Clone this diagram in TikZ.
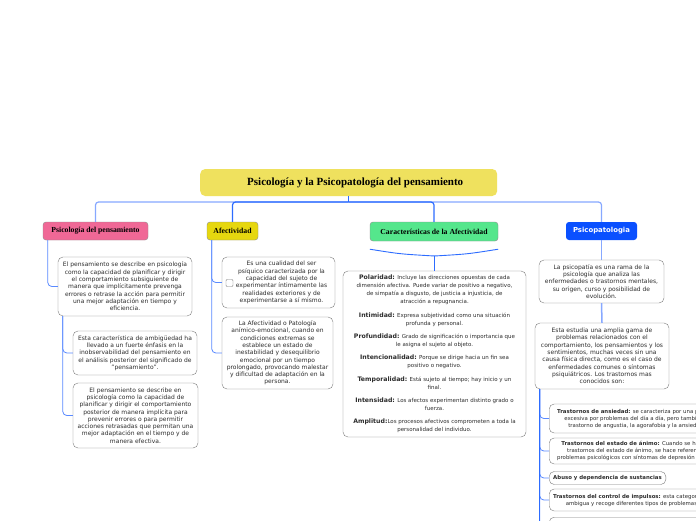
\documentclass[tikz,border=0pt]{standalone}
\usepackage{fontspec}
\setmainfont{DejaVu Sans}
\newfontfamily\headfont{Liberation Serif}
\usepackage{xcolor}
\usepackage{tikz}
\usetikzlibrary{positioning, calc}
\definecolor{titleyellow}{RGB}{239,225,94}
\definecolor{topicpink}{RGB}{240,104,150}
\definecolor{topicyellow}{RGB}{230,215,15}
\definecolor{topicgreen}{RGB}{85,230,140}
\definecolor{topicblue}{RGB}{10,80,255}
\definecolor{linkdark}{RGB}{45,108,255}
\definecolor{linklight}{RGB}{135,168,255}
\definecolor{boxgray}{RGB}{125,125,125}
\definecolor{textgray}{RGB}{45,45,45}
\tikzstyle{topic} = [rounded corners=3pt, draw=black!45, minimum height=18pt, inner sep=1pt, font=\headfont\bfseries\fontsize{7.7}{9}\selectfont]
\tikzstyle{notebox} = [rounded corners=5pt, draw=boxgray, fill=white, align=center, inner xsep=1pt, inner ysep=2pt, text=textgray, font=\fontsize{6}{7.3}\selectfont]
\tikzstyle{subnote} = [notebox, anchor=west, inner xsep=8pt, font=\fontsize{5.4}{7}\selectfont]
\tikzstyle{link} = [draw=linkdark!50!linklight, line width=0.8pt, rounded corners=4pt]
\tikzstyle{trunk} = [draw=linkdark, line width=1.2pt, rounded corners=3pt]
\newcommand{\chead}[1]{{\fontsize{6.2}{8}\selectfont\bfseries #1}}

\begin{document}
\begin{tikzpicture}[x=1pt, y=-1pt]
    \useasboundingbox[fill=white] (0,0) rectangle (696,520);
    \clip (0,0) rectangle (696,520);

    % Title
    \node[topic, fill=titleyellow, draw=none, rounded corners=5pt, minimum width=297pt, minimum height=27pt, anchor=west] (title) at (200,182.5) {};
    \node[inner sep=0pt, anchor=west, font=\headfont\bfseries\fontsize{11}{13}\selectfont] (titletxt) at (247,183) {Psicología y la Psicopatología del pensamiento};

    % Branches
    \node[topic, fill=topicpink, minimum width=105pt] (b1) at (95.5,231) {Psicología del pensamiento};
    \node[topic, fill=topicyellow, minimum width=51pt] (b2) at (232.5,231) {Afectividad};
    \node[topic, fill=topicgreen, minimum width=128pt, minimum height=19pt] (b3) at (434,231.5) {Características de la Afectividad};
    \node[topic, fill=topicblue, draw=none, minimum width=71pt, text=white, font=\bfseries\fontsize{6.9}{8}\selectfont] (b4) at (601.5,231) {Psicopatologia};

    % Trunk
    \coordinate (hub) at (title.south |- 0,202);
    \draw[trunk, draw=linklight] (hub) -| (b1.north);
    \draw[trunk, draw=linklight] (hub) -| (b4.north);
    \draw[trunk] (title.south) -- (hub);
    \draw[trunk] (hub) -| (b2.north);
    \draw[trunk] (hub) -| (b3.north);

    % Psicologia del pensamiento
    \node[notebox, minimum width=134pt, minimum height=59pt] (c11) at (125,286.5) {El pensamiento se describe en psicología\\ como la capacidad de planificar y dirigir\\ el comportamiento subsiguiente de\\ manera que implícitamente prevenga\\ errores o retrase la acción para permitir\\ una mejor adaptación en tiempo y\\ eficiencia.};
    \node[notebox, minimum width=124pt, minimum height=44pt] (c12) at (135,353) {Esta característica de ambigüedad ha\\ llevado a un fuerte énfasis en la\\ inobservabilidad del pensamiento en\\ el análisis posterior del significado de\\ "pensamiento".};
    \node[notebox, minimum width=125pt, minimum height=65pt] (c13) at (135.5,415.5) {El pensamiento se describe en\\ psicología como la capacidad de\\ planificar y dirigir el comportamiento\\ posterior de manera implícita para\\ prevenir errores o para permitir\\ acciones retrasadas que permitan una\\ mejor adaptación en el tiempo y de\\ manera efectiva.};
    \draw[link] ([xshift=5pt]b1.south west) |- (c11.west);
    \draw[link] ([xshift=5pt]c11.south west) |- (c12.west);
    \draw[link] ([xshift=5pt]c11.south west) |- (c13.west);

    % Afectividad
    \node[notebox, minimum width=113pt, minimum height=51pt] (c21) at (278.5,282.5) {};
    \node[align=center, inner sep=0pt, text=textgray, font=\fontsize{6}{7.3}\selectfont] (c21txt) at ([xshift=3pt]c21.center) {Es una cualidad del ser\\ psíquico caracterizada por la\\ capacidad del sujeto de\\ experimentar íntimamente las\\ realidades exteriores y de\\ experimentarse a sí mismo.};
    \node[draw=boxgray, rounded corners=1pt, minimum size=7pt, inner sep=0pt] (check) at (229.5,283) {};
    \node[notebox, minimum width=111pt, minimum height=72pt] (c22) at (277.5,353) {La Afectividad o Patología\\ anímico-emocional, cuando en\\ condiciones extremas se\\ establece un estado de\\ inestabilidad y desequilibrio\\ emocional por un tiempo\\ prolongado, provocando malestar\\ y dificultad de adaptación en la\\ persona.};
    \draw[link] ([xshift=5pt]b2.south west) |- (c21.west);
    \draw[link] ([xshift=5pt]b2.south west) |- (c22.west);

    % Caracteristicas de la Afectividad
    \node[notebox, minimum width=183pt, minimum height=166pt, font=\fontsize{5.5}{8}\selectfont] (c31) at (434.5,354) {\chead{Polaridad:} Incluye las direcciones opuestas de cada\\ dimensión afectiva. Puede variar de positivo a negativo,\\ de simpatía a disgusto, de justicia a injusticia, de\\ atracción a repugnancia.\\[5.3pt]
    \chead{Intimidad:} Expresa subjetividad como una situación\\ profunda y personal.\\[5.3pt]
    \chead{Profundidad:} Grado de significación o importancia que\\ le asigna el sujeto al objeto.\\[5.3pt]
    \chead{Intencionalidad:} Porque se dirige hacia un fin sea\\ positivo o negativo.\\[5.3pt]
    \chead{Temporalidad:} Está sujeto al tiempo; hay inicio y un\\ final.\\[5.3pt]
    \chead{Intensidad:} Los afectos experimentan distinto grado o\\ fuerza.\\[5.3pt]
    \chead{Amplitud:}Los procesos afectivos comprometen a toda la\\ personalidad del individuo.};
    \coordinate (bl) at ([yshift=-8pt]b3.south west);
    \coordinate (br) at ([yshift=-8pt]b3.south east);
    \coordinate (brace) at (434.5,256);
    \draw[trunk, line width=0.9pt] (bl) .. controls (400,254) .. (brace) .. controls (468,254) .. (br);
    \draw[trunk, line width=0.9pt] (brace) -- (c31.north);

    % Psicopatologia
    \node[notebox, minimum width=125pt, minimum height=43pt] (pc1) at (601.5,281.5) {La psicopatía es una rama de la\\ psicología que analiza las\\ enfermedades o trastornos mentales,\\ su origen, curso y posibilidad de\\ evolución.};
    \node[notebox, minimum width=134pt, minimum height=66pt] (pc2) at (602,356) {Esta estudia una amplia gama de\\ problemas relacionados con el\\ comportamiento, los pensamientos y los\\ sentimientos, muchas veces sin una\\ causa física directa, como es el caso de\\ enfermedades comunes o síntomas\\ psiquiátricos. Los trastornos mas\\ conocidos son:};
    \draw[link, draw=linklight, line width=1.5pt] (b4.south) -- (pc1.north);
    \draw[link, draw=linklight, line width=1.5pt] (pc1.south) -- (pc2.north);

    \node[subnote, minimum height=29pt] (sa) at (549,418.5) {\textbf{Trastornos de ansiedad:} se caracteriza por una preocupación\\ excesiva por problemas del día a día, pero también incluye\\ trastorno de angustia, la agorafobia y la ansiedad social};
    \node[subnote, minimum height=26pt] (sb) at (549,451) {\textbf{Trastornos del estado de ánimo:} Cuando se habla de\\ trastornos del estado de ánimo, se hace referencia a\\ problemas psicológicos con síntomas de depresión o manía.};
    \node[subnote, inner xsep=4pt, inner ysep=1.5pt, minimum height=13pt] (sc) at (549,478) {\textbf{Abuso y dependencia de sustancias}};
    \node[subnote, inner xsep=4pt, minimum height=22pt] (sd) at (549,500) {\textbf{Trastornos del control de impulsos:} esta categoría es\\ ambigua y recoge diferentes tipos de problemas};
    \node[subnote, anchor=north west, minimum width=180pt, minimum height=22pt] (se) at (549,517) {};

    \coordinate (pcroot) at ([xshift=5pt]pc2.south west);
    \foreach \s in {sa,sb,sc,sd,se}
        \draw[link] (pcroot) |- (\s.west);
    \draw[trunk, rounded corners=0pt] (pcroot) -- (pcroot |- se.west);
\end{tikzpicture}
\end{document}
